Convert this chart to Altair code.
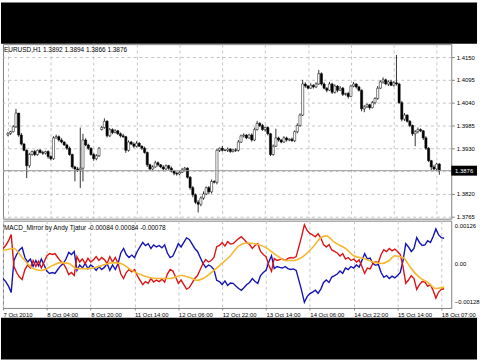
import altair as alt
import pandas as pd

symbol_title = "EURUSD,H1  1.3892 1.3894 1.3866 1.3876"
indicator_title = "MACD_Mirror by Andy Tjatur -0.00084 0.00084 -0.00078"

time_labels = ["7 Oct 2010", "8 Oct 04:00", "8 Oct 20:00", "11 Oct 14:00", "12 Oct 06:00",
               "12 Oct 22:00", "13 Oct 14:00", "14 Oct 06:00", "14 Oct 22:00", "15 Oct 14:00",
               "18 Oct 07:00"]
bars_per_label = 16
price_levels = [1.4150, 1.4095, 1.4040, 1.3985, 1.3930, 1.3875, 1.3820, 1.3765]
last_price = 1.3876
macd_levels = [0.00126, 0.0, -0.00128]

closes = [
    1.3966, 1.3970, 1.3982, 1.4015, 1.3962, 1.3940, 1.3925, 1.3888, 1.3915, 1.3922,
    1.3915, 1.3925, 1.3920, 1.3918, 1.3922, 1.3910, 1.3905, 1.3955, 1.3958, 1.3950,
    1.3945, 1.3938, 1.3930, 1.3915, 1.3885, 1.3880, 1.3878, 1.3882, 1.3950, 1.3938,
    1.3930, 1.3915, 1.3905, 1.3912, 1.3930, 1.3980, 1.3995, 1.3960, 1.3975, 1.3968,
    1.3972, 1.3965, 1.3960, 1.3958, 1.3925, 1.3945, 1.3940, 1.3935, 1.3942, 1.3935,
    1.3930, 1.3920, 1.3890, 1.3880, 1.3885, 1.3895, 1.3890, 1.3885, 1.3880, 1.3888,
    1.3882, 1.3875, 1.3870, 1.3868, 1.3872, 1.3878, 1.3882, 1.3860, 1.3835, 1.3818,
    1.3800, 1.3795, 1.3810, 1.3820, 1.3835, 1.3825, 1.3850, 1.3848, 1.3925, 1.3930,
    1.3925, 1.3925, 1.3928, 1.3922, 1.3926, 1.3925, 1.3945, 1.3960, 1.3962, 1.3955,
    1.3962, 1.3950, 1.3975, 1.3990, 1.3985, 1.3975, 1.3980, 1.3965, 1.3915, 1.3935,
    1.3955, 1.3950, 1.3945, 1.3955, 1.3950, 1.3952, 1.3948, 1.3970, 1.3985, 1.4010,
    1.4085, 1.4080, 1.4075, 1.4082, 1.4078, 1.4085, 1.4110, 1.4085, 1.4075, 1.4070,
    1.4085, 1.4065, 1.4080, 1.4070, 1.4075, 1.4060, 1.4062, 1.4055, 1.4080, 1.4085,
    1.4078, 1.4070, 1.4025, 1.4030, 1.4035, 1.4028, 1.4040, 1.4050, 1.4075, 1.4090,
    1.4095, 1.4085, 1.4090, 1.4082, 1.4088, 1.4085, 1.4040, 1.4000, 1.4010, 1.3995,
    1.3985, 1.3965, 1.3970, 1.3975, 1.3972, 1.3955, 1.3930, 1.3900, 1.3885, 1.3880,
    1.3892, 1.3876,
]
# opens follow the previous close except at these gaps
gap_opens = {0: 1.3962, 35: 1.3975}

upper_wick_pips = [
    3, 2, 4, 10, 0, 5, 3, 2, 4, 3, 4, 2, 3, 4, 2, 3, 3, 4, 5, 3,
    4, 2, 3, 4, 2, 3, 5, 98, 15, 4, 3, 2, 3, 4, 3, 4, 7, 3, 4, 3,
    4, 2, 3, 5, 2, 4, 3, 4, 5, 3, 2, 4, 2, 3, 4, 5, 3, 2, 4, 3,
    2, 4, 3, 2, 4, 5, 3, 2, 3, 4, 3, 5, 4, 6, 3, 4, 5, 3, 4, 2,
    6, 3, 4, 2, 3, 4, 5, 3, 4, 2, 3, 4, 5, 6, 3, 4, 2, 3, 2, 4,
    22, 3, 2, 4, 3, 2, 4, 3, 5, 4, 10, 4, 3, 5, 2, 4, 9, 3, 4, 2,
    5, 3, 4, 2, 5, 3, 2, 4, 3, 5, 2, 3, 2, 4, 3, 2, 4, 3, 5, 4,
    6, 3, 4, 5, 4, 67, 3, 4, 5, 2, 3, 2, 4, 5, 3, 2, 4, 3, 2, 5,
    3, 2,
]
lower_wick_pips = [
    3, 4, 2, 3, 4, 3, 2, 30, 5, 3, 4, 3, 2, 4, 3, 5, 4, 3, 2, 4,
    3, 2, 4, 3, 4, 30, 5, 44, 32, 3, 4, 3, 5, 4, 3, 2, 3, 4, 3, 4,
    2, 3, 4, 3, 6, 3, 2, 4, 3, 2, 4, 3, 5, 4, 3, 2, 4, 3, 5, 2,
    4, 3, 5, 4, 3, 2, 4, 3, 5, 6, 4, 20, 5, 4, 3, 6, 4, 3, 5, 4,
    3, 2, 4, 3, 2, 4, 3, 2, 4, 3, 2, 4, 3, 2, 4, 3, 5, 4, 4, 3,
    2, 4, 3, 2, 4, 3, 2, 3, 4, 3, 2, 4, 3, 2, 4, 3, 2, 4, 3, 5,
    2, 4, 3, 5, 2, 4, 3, 5, 2, 3, 4, 3, 6, 8, 3, 5, 2, 4, 3, 2,
    4, 3, 5, 2, 3, 4, 3, 5, 4, 3, 4, 5, 30, 4, 3, 5, 4, 3, 8, 4,
    5, 10,
]

# MACD mirror line (blue), in units of 0.00001; the red line is its mirror
mirror_line = [
    -50, -60, -75, -96, 10, 30, 45, 53, 20, 5,
    15, -10, 10, -8, 15, -5, -25, -33, -30, -33,
    -20, -8, 0, 15, 37, 30, 40, -23, -5, -15,
    0, -17, -5, -12, -23, -10, -20, -13, 0, -23,
    -5, -20, 0, 35, 50, 30, 20, 28, 20, 40,
    55, 70, 60, 66, 50, 62, 55, 60, 52, 62,
    35, 20, 25, 45, 66, 55, 70, 85, 80, 65,
    50, 40, 20, 0, -13, -5, -10, -20, -56, -60,
    -70, -58, -73, -65, -66, -75, -83, -89, -80, -70,
    -63, -50, -60, -66, -40, -30, -23, 5, 26, -17,
    -10, -13, -15, -10, -17, -20, -18, -23, -56, -90,
    -129, -110, -100, -95, -89, -99, -85, -63, -55, -63,
    -45, -40, -35, -25, -33, -15, -20, -10, -15, -5,
    -12, 10, 33, 15, 18, 0, -6, -3, -30, -46,
    -40, -50, -42, -48, -40, -30, 10, 66, 55, 40,
    50, 86, 70, 60, 62, 76, 70, 90, 115, 95,
    86, 84,
]
signal_bars = [0, 4, 7, 11, 14, 18, 21, 24, 27, 31, 36, 40, 43, 47, 51, 56, 61, 65, 68, 71,
               73, 77, 79, 83, 86, 89, 92, 96, 100, 103, 106, 109, 113, 116, 118, 121, 125, 128,
               132, 136, 138, 141, 143, 146, 149, 152, 155, 158, 161]
signal_line = [43, 50, 20, -17, -23, -7, 3, 0, -17, -17, -7, 3, 0, -23, -40, -50, -50, -40, -46, -56,
               -50, -23, -7, 26, 58, 68, 66, 53, 26, 10, 10, 20, 53, 86, 92, 70, 50, 26,
               16, 3, 0, 10, 26, 20, -17, -46, -63, -83, -78]

FONT = "Liberation Sans"
GRID = "#c4c4c4"

n = len(closes)
bar_ids = list(range(n))
opens = [gap_opens[i] if i in gap_opens else closes[i - 1] for i in bar_ids]
highs = [max(o, c) + u / 10000 for o, c, u in zip(opens, closes, upper_wick_pips)]
lows = [min(o, c) - d / 10000 for o, c, d in zip(opens, closes, lower_wick_pips)]
candles = pd.DataFrame({
    "bar": bar_ids, "open": opens, "high": highs, "low": lows, "close": closes,
    "dir": ["up" if c >= o else "down" for o, c in zip(opens, closes)],
})
macd_df = pd.DataFrame({
    "bar": bar_ids,
    "mirror": [v / 100000 for v in mirror_line],
    "macd": [-v / 100000 for v in mirror_line],
})
signal_df = pd.DataFrame({"bar": signal_bars, "signal": [v / 100000 for v in signal_line]})
last_df = pd.DataFrame({"p": [last_price], "t": [f"{last_price:.4f}"]})

tick_bars = [i * bars_per_label for i in range(len(time_labels))]
label_expr = "[" + ",".join(f"'{t}'" for t in time_labels) + f"][round(datum.value/{bars_per_label})]"

X_DOMAIN = [0, 163.6]
x_scale = alt.Scale(domain=X_DOMAIN, nice=False, zero=False)
x_axis_top = alt.Axis(values=tick_bars, grid=True, gridDash=[3, 3], gridColor=GRID,
                      labels=False, ticks=False, domain=False, title=None)
x_axis_bottom = alt.Axis(values=tick_bars, grid=True, gridDash=[3, 3], gridColor=GRID,
                         labelExpr=label_expr, labelAlign="left", labelBaseline="top",
                         labelPadding=2, tickSize=2, domain=False, title=None,
                         labelFontSize=6, labelOverlap=False, labelFlush=False)

# the gridline level hidden behind the last-price box gets no label
price_label_expr = (f"abs(datum.value - {last_price}) < 0.0003 ? '' : "
                    "format(datum.value, '.4f')")
price_scale = alt.Scale(domain=[1.37602, 1.41811], nice=False, zero=False)
price_axis = alt.Axis(orient="right", values=price_levels, labelExpr=price_label_expr, grid=True,
                      gridDash=[3, 3], gridColor=GRID, tickSize=3, labelPadding=2,
                      domain=False, title=None, labelFontSize=6, labelOverlap=False,
                      labelFlush=False)

macd_scale = alt.Scale(domain=[-0.001478, 0.001425], nice=False, zero=False)
macd_axis = alt.Axis(orient="right", values=macd_levels, grid=False, tickSize=0, labelPadding=3,
                     labelExpr="datum.value == 0 ? '0.00' : format(datum.value, '.5f')",
                     domain=False, title=None, labelFontSize=6, labelOverlap=False,
                     labelFlush=False)


def xt(field="bar"):
    return alt.X(field, type="quantitative", scale=x_scale, axis=x_axis_top)


def xb(field="bar"):
    return alt.X(field, type="quantitative", scale=x_scale, axis=x_axis_bottom)


def py(field):
    return alt.Y(field, type="quantitative", scale=price_scale, axis=price_axis)


def my(field):
    return alt.Y(field, type="quantitative", scale=macd_scale, axis=macd_axis)


wicks = alt.Chart(candles).mark_rule(color="black", strokeWidth=0.8, clip=True).encode(
    x=xt(), y=py("low"), y2="high:Q")
bodies = alt.Chart(candles).mark_bar(size=2.2, stroke="black", strokeWidth=0.5, clip=True).encode(
    x=xt(), y=py("open"), y2="close:Q",
    color=alt.Color("dir:N", scale=alt.Scale(domain=["up", "down"], range=["white", "black"]),
                    legend=None))
price_line = alt.Chart(last_df).mark_rule(color="#9a9a9a", strokeWidth=1).encode(y=py("p"))
price_box = alt.Chart(last_df).mark_point(
    shape="M-1.3,-0.5L1.3,-0.5L1.3,0.5L-1.3,0.5Z", size=400, filled=True, color="black",
    opacity=1).encode(x=alt.value(465), y=py("p"))
price_text = alt.Chart(last_df).mark_text(color="white", fontSize=6, font=FONT, align="center",
                                          baseline="middle").encode(
    x=alt.value(465), y=py("p"), text="t:N")
top_title = alt.Chart(last_df).mark_text(align="left", baseline="middle", fontSize=6.5, font=FONT,
                                         color="black").encode(
    x=alt.value(1), y=alt.value(6), text=alt.value(symbol_title))
top_band = alt.Chart(last_df).mark_rect(color="black").encode(
    x=alt.value(-2), x2=alt.value(478), y=alt.value(-42), y2=alt.value(-0.5))

top = alt.layer(wicks, bodies, price_line, price_box, price_text, top_title, top_band).properties(
    width=452, height=176)

blue = alt.Chart(macd_df).mark_line(color="#1414b4", strokeWidth=1.4, clip=True).encode(
    x=xb(), y=my("mirror"))
red = alt.Chart(macd_df).mark_line(color="#dc1414", strokeWidth=1.4, clip=True).encode(
    x=xb(), y=my("macd"))
yellow = alt.Chart(signal_df).mark_line(color="#f5b82e", strokeWidth=1.6, clip=True,
                                        interpolate="monotone").encode(x=xb(), y=my("signal"))
macd_title = alt.Chart(last_df).mark_text(align="left", baseline="middle", fontSize=6.5, font=FONT,
                                          color="black").encode(
    x=alt.value(1), y=alt.value(7), text=alt.value(indicator_title))
bottom_band = alt.Chart(last_df).mark_rect(color="black").encode(
    x=alt.value(-2), x2=alt.value(478), y=alt.value(98), y2=alt.value(140))

bottom = alt.layer(blue, red, yellow, macd_title, bottom_band).properties(width=452, height=88)

chart = alt.vconcat(top, bottom, spacing=2, bounds="flush").properties(
    padding=0, background="white"
).configure_view(stroke="#808080", strokeWidth=1).configure_axis(
    labelFont=FONT, labelColor="black", tickColor="#808080"
)

chart.save("out.html", embed_options={"renderer": "svg", "actions": False})
